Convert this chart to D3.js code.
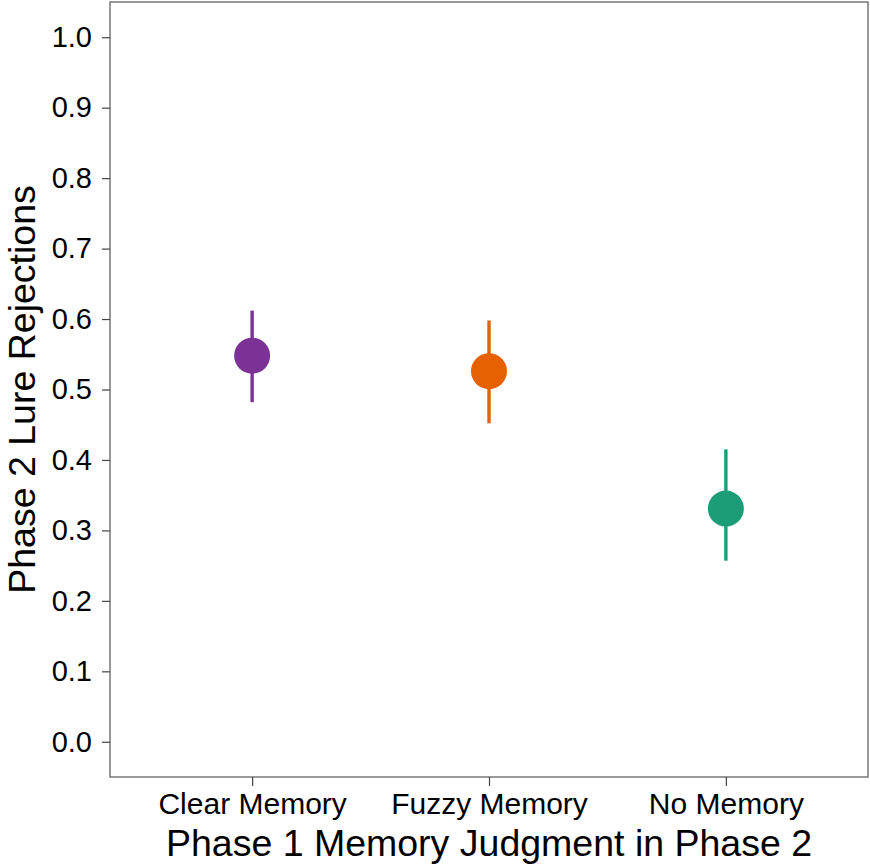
<!DOCTYPE html>
<html><head><meta charset="utf-8">
<script src="https://cdn.jsdelivr.net/npm/d3@7"></script>
<style>body{margin:0;background:#fff}svg{display:block}</style>
</head><body>
<svg id="c" width="870" height="867"></svg>
<script>
const categories = ["Clear Memory", "Fuzzy Memory", "No Memory"];
const means = [0.548, 0.526, 0.331];
const lowers = [0.482, 0.452, 0.257];
const uppers = [0.612, 0.598, 0.415];
const colors = ["#7b3294", "#e66101", "#1b9e77"];
const yTicks = [0.0, 0.1, 0.2, 0.3, 0.4, 0.5, 0.6, 0.7, 0.8, 0.9, 1.0];

const svg = d3.select("#c");
const L = 110, R = 868, T = 2, B = 777;
const font = "Liberation Sans, Arial, sans-serif";

const y = d3.scaleLinear().domain([-0.05, 1.05]).range([B, T]);
const xIdx = d3.scaleLinear().domain([0.4, 3.6]).range([L, R]);
const x = c => xIdx(categories.indexOf(c) + 1);

svg.append("rect").attr("x", L).attr("y", T).attr("width", R - L).attr("height", B - T)
  .attr("fill", "#fff").attr("stroke", "#555").attr("stroke-width", 1.2);

// y axis
const ya = svg.append("g").attr("transform", `translate(${L},0)`)
  .call(d3.axisLeft(y).tickValues(yTicks).tickFormat(d3.format(".1f")).tickSize(8).tickPadding(10));
ya.select(".domain").remove();
ya.selectAll(".tick line").attr("stroke", "#444").attr("stroke-width", 1.2);
ya.selectAll(".tick text").attr("font-family", font).attr("font-size", 29).attr("fill", "#000");

// x axis
const xa = svg.append("g").attr("transform", `translate(0,${B})`)
  .call(d3.axisBottom(d3.scalePoint().domain(categories).range([xIdx(1), xIdx(3)])).tickSize(9).tickPadding(7));
xa.select(".domain").remove();
xa.selectAll(".tick line").attr("stroke", "#444").attr("stroke-width", 1.2);
xa.selectAll(".tick text").attr("font-family", font).attr("font-size", 30).attr("fill", "#000");

// error bars
svg.selectAll(".err").data(categories).enter().append("line")
  .attr("x1", d => x(d)).attr("x2", d => x(d))
  .attr("y1", (d, i) => y(lowers[i])).attr("y2", (d, i) => y(uppers[i]))
  .attr("stroke", (d, i) => colors[i]).attr("stroke-width", 3.4);

svg.selectAll(".pt").data(categories).enter().append("circle")
  .attr("cx", d => x(d)).attr("cy", (d, i) => y(means[i])).attr("r", 18)
  .attr("fill", (d, i) => colors[i]);

// titles
svg.append("text").attr("x", (L + R) / 2).attr("y", 856).attr("text-anchor", "middle")
  .attr("font-family", font).attr("font-size", 37.5).attr("fill", "#000")
  .text("Phase 1 Memory Judgment in Phase 2");
svg.append("text").attr("transform", `translate(35,${(T + B) / 2}) rotate(-90)`).attr("text-anchor", "middle")
  .attr("font-family", font).attr("font-size", 37.5).attr("fill", "#000")
  .text("Phase 2 Lure Rejections");
</script>
</body></html>
